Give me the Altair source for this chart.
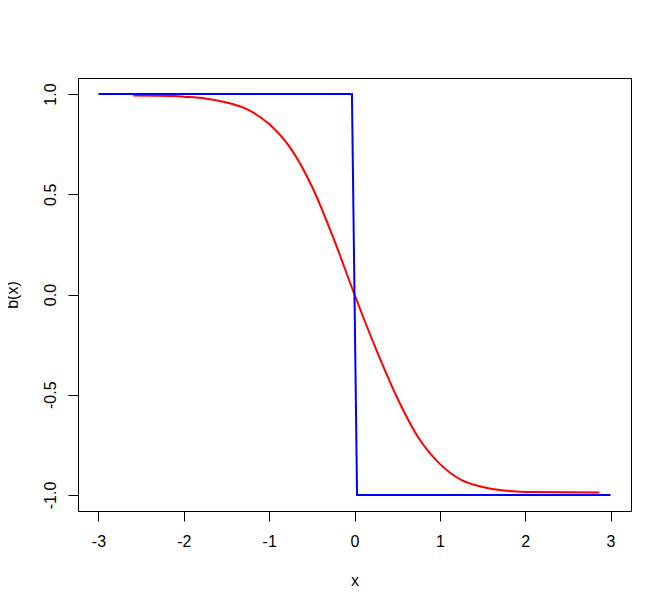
import altair as alt
import pandas as pd

# Red curve
red_x = [-2.59, -2.1, -2.0, -1.75, -1.5, -1.25, -1.0, -0.75, -0.5, -0.25, 0.0,
         0.25, 0.5, 0.75, 1.0, 1.25, 1.5, 1.75, 2.1, 2.87]
red_y = [0.993, 0.99, 0.987, 0.978, 0.958, 0.922, 0.85, 0.73, 0.54, 0.285, 0.0,
         -0.27, -0.515, -0.715, -0.845, -0.925, -0.96, -0.978, -0.985, -0.988]

# Blue step line
blue_x = [-3.0, -0.03, 0.03, 3.0]
blue_y = [1.0, 1.0, -1.0, -1.0]

x_ticks = [-3, -2, -1, 0, 1, 2, 3]
y_ticks = [-1.0, -0.5, 0.0, 0.5, 1.0]

red_df = pd.DataFrame({"x": red_x, "y": red_y})
blue_df = pd.DataFrame({"x": blue_x, "y": blue_y})

FONT = "Liberation Sans"
FS = 16

xscale = alt.Scale(domain=[-3.24, 3.24], nice=False, zero=False)
yscale = alt.Scale(domain=[-1.08, 1.08], nice=False, zero=False)

xaxis = alt.Axis(values=x_ticks, title="x", grid=False, domain=False,
                 tickSize=10, tickColor="black", tickWidth=1,
                 labelFont=FONT, labelFontSize=FS, labelColor="black",
                 labelPadding=12, labelExpr="replace(format(datum.value, 'd'), '\u2212', '-')",
                 titleFont=FONT, titleFontSize=FS, titleColor="black", titleFontWeight="normal",
                 titleX=276.5, titleY=69, titleBaseline="middle", titleAlign="center")
yaxis = alt.Axis(values=y_ticks, title="b(x)", grid=False, domain=False,
                 tickSize=10, tickColor="black", tickWidth=1,
                 labelFont=FONT, labelFontSize=FS, labelColor="black",
                 labelAngle=270, labelAlign="center", labelBaseline="bottom",
                 labelPadding=10, labelExpr="replace(format(datum.value, '.1f'), '\u2212', '-')",
                 titleFont=FONT, titleFontSize=FS, titleColor="black", titleFontWeight="normal",
                 titleAngle=270, titleX=-66, titleY=216.5, titleBaseline="middle", titleAlign="center")

red = alt.Chart(red_df).mark_line(color="#FF0000", strokeWidth=2, interpolate="monotone").encode(
    x=alt.X("x:Q", scale=xscale, axis=xaxis),
    y=alt.Y("y:Q", scale=yscale, axis=yaxis),
    order="x:Q",
)
blue = alt.Chart(blue_df).mark_line(color="#0000FF", strokeWidth=2).encode(
    x=alt.X("x:Q", scale=xscale),
    y=alt.Y("y:Q", scale=yscale),
    order="x:Q",
)

chart = alt.layer(red, blue).properties(
    width=553, height=433,
    autosize=alt.AutoSizeParams(type="none"),
    padding={"left": 70, "top": 70, "right": 30, "bottom": 90},
    background="white",
).configure_view(stroke="black", strokeWidth=1)

chart.save("out.html", embed_options={"renderer": "svg", "actions": False})
